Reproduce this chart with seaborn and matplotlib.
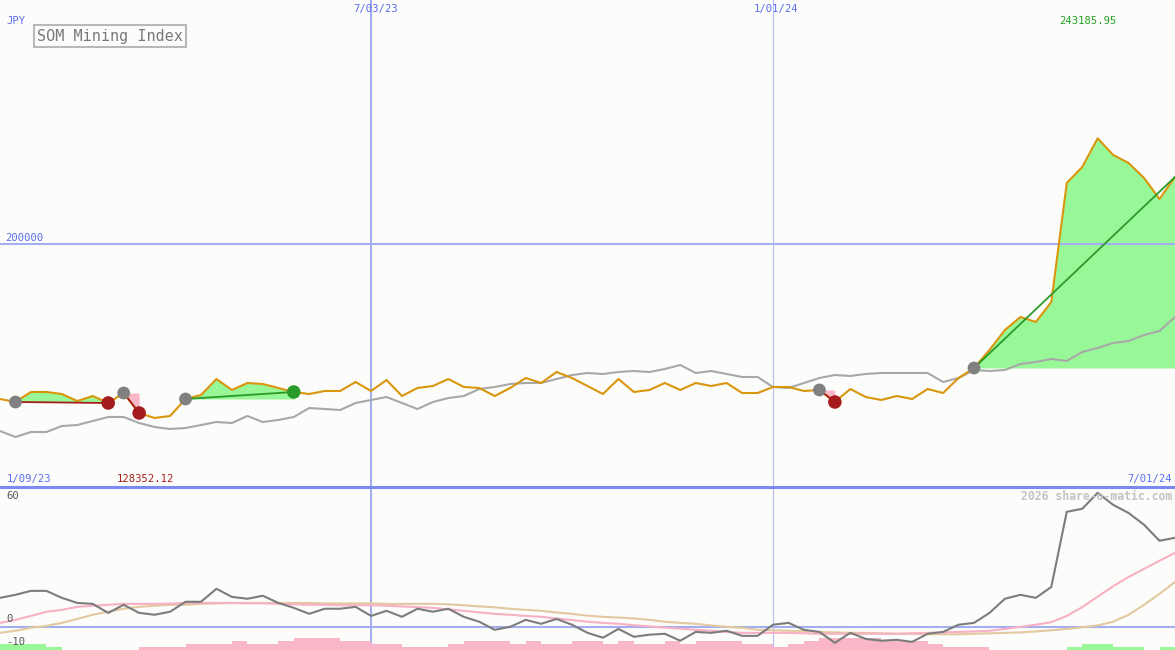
import numpy as np
import pandas as pd
import seaborn as sns
import matplotlib.pyplot as plt

# weekly points, 1/16/23 .. 7/01/24
weeks = pd.date_range("2023-01-16", "2024-07-01", freq="7D")

close = [136140, 134910, 139020, 139020, 138190, 135320, 137370, 134500, 138600, 130390,
         128352.12, 129160, 136140, 137780, 144350, 139840, 142710, 142300, 140660, 139020,
         138190, 139430, 139430, 143120, 139430, 143940, 137370, 140660, 141480, 144350,
         141070, 140660, 137370, 140660, 144760, 142710, 147230, 144760, 141480, 138190,
         144350, 139020, 139840, 142710, 139840, 142710, 141480, 142710, 138600, 138600,
         141070, 141070, 139430, 139840, 134910, 140250, 136960, 135730, 137370, 136140,
         140250, 138600, 144760, 148870, 156260, 164480, 169820, 167760, 175980, 224850,
         231420, 243185.95, 236350, 233060, 226900, 218280, 227310]

avg = [123000, 120530, 122590, 122590, 125050, 125460, 127100, 128750, 128750, 126280,
       124640, 123820, 124230, 125460, 126690, 126280, 129160, 126690, 127520, 128750,
       132440, 132030, 131620, 134500, 135730, 136960, 134500, 132030, 134910, 136550,
       137370, 140250, 141070, 142300, 142710, 142710, 144350, 146000, 146820, 146410,
       147230, 147640, 147230, 148460, 150100, 146820, 147640, 146410, 145180, 145180,
       141070, 140660, 142710, 144760, 146000, 145590, 146410, 146820, 146820, 146820,
       146820, 143120, 144760, 148050, 147640, 148050, 150510, 151340, 152570, 151750,
       155440, 157090, 159140, 159960, 162420, 164070, 169820]

osc = [12.5, 13.8, 15.5, 15.5, 12.5, 10.3, 9.9, 6.0, 9.5, 6.0,
       5.2, 6.5, 10.8, 10.8, 16.4, 12.9, 12.1, 13.4, 10.3, 8.2,
       5.6, 7.8, 7.8, 8.6, 4.7, 6.9, 4.3, 7.8, 6.5, 7.8,
       4.3, 2.2, -1.3, 0.0, 3.0, 1.3, 3.4, 0.9, -2.6, -4.7,
       -0.9, -4.3, -3.4, -3.0, -6.0, -2.2, -2.6, -1.7, -3.9, -3.9,
       0.9, 1.7, -1.3, -2.2, -6.9, -2.6, -5.2, -6.0, -5.6, -6.5,
       -3.0, -2.2, 0.9, 1.7, 6.0, 12.1, 13.8, 12.5, 17.2, 49.6,
       50.9, 57.8, 52.6, 49.1, 44.0, 37.1, 38.4]

fast = [1.7, 3.0, 4.7, 6.5, 7.3, 8.6, 9.1, 9.5, 9.9, 9.9,
        9.9, 10.0, 10.3, 10.3, 10.3, 10.3, 10.1, 10.1, 9.9, 9.7,
        9.5, 9.5, 9.3, 9.3, 9.3, 9.1, 8.8, 8.5, 8.2, 7.5,
        6.9, 6.2, 5.6, 5.2, 4.7, 4.3, 3.6, 2.9, 2.2, 1.7,
        1.3, 0.7, 0.2, -0.4, -0.8, -1.3, -1.7, -2.2, -2.6, -2.6,
        -2.6, -2.6, -2.8, -3.0, -3.0, -3.0, -3.0, -3.0, -3.0, -2.8,
        -2.6, -2.4, -2.2, -2.0, -1.7, -0.9, 0.0, 0.9, 2.0, 4.7,
        8.5, 13.0, 17.5, 21.5, 25.0, 28.5, 31.9]

slow = [-2.6, -1.7, -0.4, 0.4, 1.7, 3.4, 5.2, 6.5, 7.8, 8.6,
        9.1, 9.5, 9.5, 9.9, 10.1, 10.3, 10.3, 10.3, 10.3, 10.3,
        10.3, 10.1, 10.1, 10.1, 10.1, 9.9, 9.9, 9.9, 9.9, 9.7,
        9.3, 8.8, 8.4, 7.8, 7.3, 6.9, 6.2, 5.6, 4.8, 4.3,
        4.0, 3.6, 3.0, 2.2, 1.7, 1.3, 0.6, 0.0, -0.4, -1.3,
        -1.5, -1.7, -1.9, -2.2, -2.4, -2.6, -2.6, -2.8, -3.0, -3.0,
        -3.2, -3.2, -3.2, -3.0, -2.8, -2.6, -2.4, -2.0, -1.5, -0.9,
        -0.2, 0.6, 2.2, 5.2, 9.5, 14.2, 19.4]

# histogram blocks, + green / - pink
hist = [2, 2, 2, 1, 0, 0, 0, 0, 0, -1,
        -1, -1, -2, -2, -2, -3, -2, -2, -3, -4,
        -4, -4, -3, -3, -2, -2, -1, -1, -1, -2,
        -3, -3, -3, -2, -3, -2, -2, -3, -3, -2,
        -3, -2, -2, -3, -2, -3, -3, -3, -2, -2,
        -1, -2, -3, -4, -4, -4, -4, -3, -3, -3,
        -2, -1, -1, -1, 0, 0, 0, 0, 0, 1,
        2, 2, 1, 1, 0, 1, 0]

trade_entry = [1, 8, 12, 53, 63]
trade_exit = [7, 9, 19, 54, 76]
trade_open = [False, False, False, False, True]

bg = "#fcfdfa"
blue = "#5a6cf0"
grid = "#a4acf2"
orange = "#d9950c"
green_fill = "#98f898"
pink_fill = "#f8b6c8"
dark_red = "#a51c1c"
green_line = "#2a9a2a"

W, H = 1175, 650
fig = plt.figure(figsize=(W / 100, H / 100), dpi=100, facecolor=bg)
ax = fig.add_axes([0, 163 / H, 1, 487 / H])
ax2 = fig.add_axes([0, 0, 1, 163 / H])

close_arr = np.array(close)

# trade fills
for e, x in zip(trade_entry, trade_exit):
    xs = weeks[e:x + 1]
    ys = close_arr[e:x + 1]
    base = close_arr[e]
    ax.fill_between(xs, ys, base, where=ys >= base, interpolate=True, color=green_fill, lw=0)
    ax.fill_between(xs, ys, base, where=ys <= base, interpolate=True, color=pink_fill, lw=0)

ax.axhline(200000, color=grid, lw=1.5, zorder=1)
for a in (ax, ax2):
    a.axvline(pd.Timestamp("2023-07-03"), color=grid, lw=1.5, zorder=1)
    a.axvline(pd.Timestamp("2024-01-01"), color="#b4baf2", lw=0.8, zorder=1)

sns.lineplot(x=weeks, y=avg, ax=ax, color="#a8a8a8", lw=1.5, zorder=3)
sns.lineplot(x=weeks, y=close, ax=ax, color=orange, lw=1.5, zorder=4)

for e, x, op in zip(trade_entry, trade_exit, trade_open):
    win = close[x] > close[e]
    c = green_line if win else dark_red
    ax.plot([weeks[e], weeks[x]], [close[e], close[x]], color=c, lw=1.3, zorder=5)
    sns.scatterplot(x=[weeks[e]], y=[close[e]], ax=ax, color="#808080", s=85,
                    edgecolor="none", zorder=6)
    if not op:
        sns.scatterplot(x=[weeks[x]], y=[close[x]], ax=ax,
                        color="#2a9a2a" if win else dark_red, s=95,
                        edgecolor="none", zorder=6)

ax.set_xlim(weeks[0], weeks[-1])
ax.set_ylim(100000, 300000)
ax.set_axis_off()

# lower panel
ax2.axhline(0, color=grid, lw=1.5, zorder=1)
hist_arr = np.array(hist)
ax2.bar(weeks, np.abs(hist_arr) * 1.3, width=7, align="edge", bottom=-10,
        color=[green_fill if h > 0 else pink_fill for h in hist_arr], lw=0, zorder=2)
sns.lineplot(x=weeks, y=slow, ax=ax2, color="#e2c9a0", lw=1.5, zorder=3)
sns.lineplot(x=weeks, y=fast, ax=ax2, color="#f7b0c4", lw=1.5, zorder=3)
sns.lineplot(x=weeks, y=osc, ax=ax2, color="#7c7c7c", lw=1.5, zorder=4)
ax2.set_xlim(weeks[0], weeks[-1])
ax2.set_ylim(-10, 60.3)
ax2.set_axis_off()

# panel divider
fig.add_artist(plt.Line2D([0, 1], [1 - 487 / H] * 2, color="#7a8af0", lw=2.2))


def put(x, y, s, **kw):
    kw.setdefault("family", "DejaVu Sans Mono")
    kw.setdefault("fontsize", 7.6)
    kw.setdefault("va", "center")
    fig.text(x / W, 1 - y / H, s, **kw)


put(6, 21, "JPY", color=blue)
put(376, 9, "7/03/23", color=blue, ha="center")
put(776, 9, "1/01/24", color=blue, ha="center")
put(1088, 21, "243185.95", color="#22a022", ha="center")
put(5, 238, "200000", color=blue)
put(7, 479, "1/09/23", color=blue)
put(117, 479, "128352.12", color=dark_red)
put(1172, 479, "7/01/24", color=blue, ha="right")
put(1172, 496, "2026 share-o-matic.com", color="#c4c4c4", ha="right",
    fontsize=8.3, fontweight="bold")
put(6, 496, "60", color="#555555")
put(6, 619, "0", color="#555555")
put(6, 642, "-10", color="#555555")
put(110, 36, "SOM Mining Index", color="#787878", ha="center", fontsize=10.9,
    bbox=dict(boxstyle="square,pad=0.2", fc=bg, ec="#b8b8b8", lw=1.5))

fig.savefig("out.png", dpi=100, facecolor=bg)
